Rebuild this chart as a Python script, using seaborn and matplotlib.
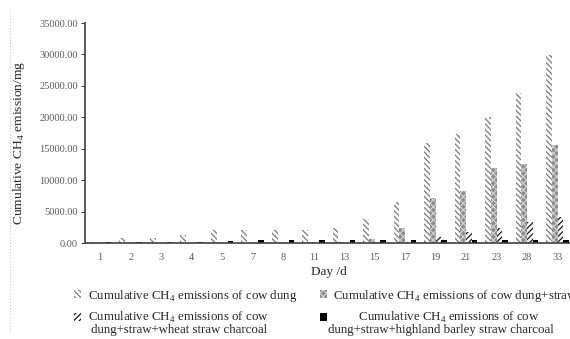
import numpy as np
import pandas as pd
import matplotlib
matplotlib.use('Agg')
import matplotlib.pyplot as plt
from matplotlib.patches import Patch
from matplotlib.lines import Line2D
import seaborn as sb

# values (mg)
days = ['1', '2', '3', '4', '5', '7', '8', '11', '13', '15', '17', '19', '21', '23', '28', '33']
cow_dung = [100, 750, 800, 1300, 2000, 2050, 2100, 2100, 2400, 3900, 6500, 15900, 17300, 20000, 23900, 29900]
cow_dung_straw = [30, 50, 50, 60, 80, 80, 80, 200, 200, 600, 2400, 7200, 8300, 12000, 12500, 15600]
wheat_charcoal = [20, 30, 40, 50, 60, 60, 60, 60, 80, 100, 100, 950, 1750, 2400, 3300, 4200]
barley_charcoal = [100, 100, 100, 200, 400, 420, 420, 420, 420, 420, 420, 420, 420, 420, 420, 420]

series = ['cow dung', 'cow dung+straw', 'wheat straw charcoal', 'highland barley straw charcoal']
values = [cow_dung, cow_dung_straw, wheat_charcoal, barley_charcoal]

rows = []
for name, vals in zip(series, values):
    for d, v in zip(days, vals):
        rows.append({'day': d, 'series': name, 'value': v})
df = pd.DataFrame(rows)

sb.set_style('white')
plt.rcParams['font.family'] = ['Liberation Serif', 'DejaVu Serif']
plt.rcParams['mathtext.fontset'] = 'custom'
plt.rcParams['mathtext.rm'] = 'Liberation Serif'
plt.rcParams['hatch.linewidth'] = 0.9

# bar styles: face, edge (hatch colour), hatch
styles = [('white', '#7a7a7a', '\\\\\\\\\\\\'),
          ('#8c8c8c', '#cfcfcf', 'xxxxx'),
          ('white', '#1a1a1a', '//////'),
          ('black', 'black', '')]

fig = plt.figure(figsize=(5.7, 3.39), dpi=100)
ax = fig.add_axes([0.149, 0.283, 0.856, 0.649])

sb.barplot(data=df, x='day', y='value', hue='series', order=days, hue_order=series,
           width=0.74, ax=ax, legend=False, linewidth=0)

n = len(days)
for i, p in enumerate(ax.patches[:4 * n]):
    fc, ec, h = styles[i // n]
    p.set_facecolor(fc)
    p.set_edgecolor(ec)
    p.set_hatch(h)
    p.set_linewidth(0)

ax.set_ylim(0, 35000)
ax.set_xlim(-0.5, n - 0.5)
ax.set_yticks(np.arange(0, 35001, 5000))
ax.yaxis.set_major_formatter(matplotlib.ticker.FormatStrFormatter('%.2f'))
for s in ['top', 'right']:
    ax.spines[s].set_visible(False)
ax.spines['left'].set_color('#404040')
ax.spines['bottom'].set_color('#404040')
ax.spines['left'].set_linewidth(1.2)
ax.spines['bottom'].set_linewidth(1.2)
ax.tick_params(axis='y', length=3, width=0.8, color='#404040', labelsize=7.5,
               labelcolor='#595959', pad=2, left=True, direction='out')
ax.tick_params(axis='x', length=0, labelsize=7.5, labelcolor='#595959', pad=7)

ax.set_ylabel(r'Cumulative CH$_\mathregular{4}$ emission/mg', fontsize=9.7)
ax.yaxis.set_label_coords(-0.119, 0.455)
ax.set_xlabel('Day /d', fontsize=9.5, labelpad=3)

# legend
ch4 = r'CH$_\mathregular{4}$'
handles = [Patch(facecolor=styles[k][0], edgecolor=styles[k][1], hatch=styles[k][2], linewidth=0)
           for k in [0, 2, 1, 3]]
labels = ['Cumulative ' + ch4 + ' emissions of cow dung',
          'Cumulative ' + ch4 + ' emissions of cow',
          'Cumulative ' + ch4 + ' emissions of cow dung+straw',
          '        Cumulative ' + ch4 + ' emissions of cow']
fig.legend(handles, labels, ncol=2, loc='upper left', bbox_to_anchor=(0.13, 0.151),
           bbox_transform=fig.transFigure, frameon=False, fontsize=9.3,
           handlelength=0.55, handleheight=0.55, handletextpad=0.5,
           columnspacing=1.75, labelspacing=0.5, borderpad=0, borderaxespad=0)

fig.text(0.16, 0.018, 'dung+straw+wheat straw charcoal', fontsize=9.3, ha='left', va='baseline')
fig.text(0.575, 0.018, 'dung+straw+highland barley straw charcoal', fontsize=9.3, ha='left', va='baseline')

# faint dotted border line at left edge of the reference
fig.add_artist(Line2D([0.018, 0.018], [0.02, 0.97], transform=fig.transFigure,
                      color='#c8c8c8', linestyle=':', linewidth=0.8))

fig.savefig('out.png', dpi=100)
